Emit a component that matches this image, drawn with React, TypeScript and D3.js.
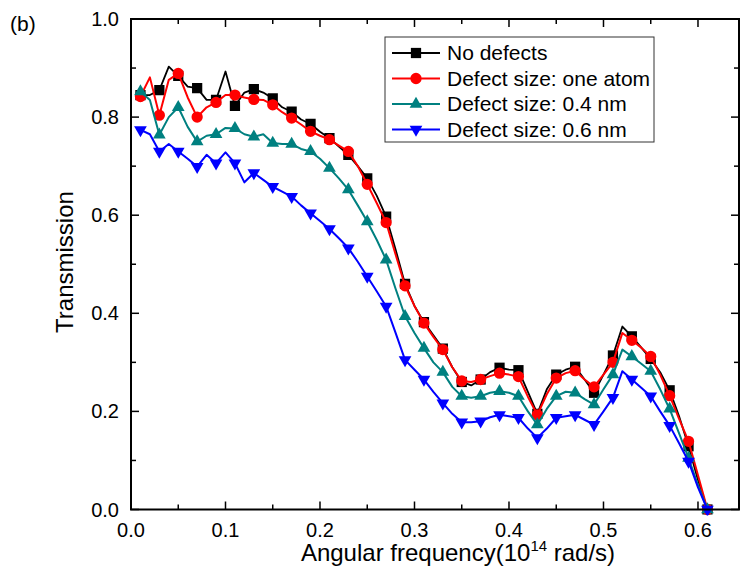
import React from 'react';
import * as d3 from 'd3';

// Angular frequency (10^14 rad/s)
const freq = [
  0.01, 0.02, 0.03, 0.04, 0.05, 0.06, 0.07, 0.08, 0.09, 0.10,
  0.11, 0.12, 0.13, 0.14, 0.15, 0.16, 0.17, 0.18, 0.19, 0.20,
  0.21, 0.22, 0.23, 0.24, 0.25, 0.26, 0.27, 0.28, 0.29, 0.30,
  0.31, 0.32, 0.33, 0.34, 0.35, 0.36, 0.37, 0.38, 0.39, 0.40,
  0.41, 0.42, 0.43, 0.44, 0.45, 0.46, 0.47, 0.48, 0.49, 0.50,
  0.51, 0.52, 0.53, 0.54, 0.55, 0.56, 0.57, 0.58, 0.59, 0.60,
  0.61,
];

const noDefects = [
  0.845, 0.845, 0.855, 0.903, 0.884, 0.862, 0.859, 0.835, 0.835, 0.893,
  0.823, 0.850, 0.857, 0.850, 0.838, 0.820, 0.811, 0.795, 0.786, 0.770,
  0.757, 0.740, 0.723, 0.700, 0.675, 0.640, 0.597, 0.530, 0.460, 0.415,
  0.382, 0.355, 0.328, 0.290, 0.260, 0.253, 0.265, 0.280, 0.289, 0.285,
  0.284, 0.240, 0.195, 0.245, 0.275, 0.285, 0.291, 0.265, 0.238, 0.275,
  0.314, 0.373, 0.353, 0.330, 0.307, 0.280, 0.243, 0.190, 0.129, 0.060,
  0.000,
];

const oneAtom = [
  0.842, 0.881, 0.804, 0.876, 0.889, 0.840, 0.800, 0.820, 0.830, 0.845,
  0.845, 0.840, 0.836, 0.835, 0.825, 0.810, 0.798, 0.785, 0.771, 0.762,
  0.754, 0.742, 0.730, 0.700, 0.663, 0.625, 0.585, 0.520, 0.456, 0.415,
  0.380, 0.352, 0.326, 0.290, 0.262, 0.260, 0.265, 0.272, 0.278, 0.275,
  0.271, 0.230, 0.193, 0.235, 0.268, 0.278, 0.283, 0.265, 0.250, 0.275,
  0.300, 0.360, 0.345, 0.330, 0.312, 0.275, 0.232, 0.185, 0.139, 0.070,
  0.000,
];

const defect04 = [
  0.852, 0.835, 0.764, 0.800, 0.820, 0.780, 0.750, 0.762, 0.765, 0.778,
  0.777, 0.765, 0.760, 0.765, 0.747, 0.745, 0.745, 0.735, 0.730, 0.715,
  0.696, 0.675, 0.652, 0.620, 0.587, 0.550, 0.509, 0.450, 0.394, 0.360,
  0.329, 0.300, 0.280, 0.250, 0.231, 0.228, 0.231, 0.238, 0.241, 0.238,
  0.231, 0.200, 0.173, 0.205, 0.231, 0.240, 0.238, 0.225, 0.214, 0.245,
  0.275, 0.326, 0.312, 0.297, 0.282, 0.245, 0.205, 0.155, 0.105, 0.050,
  0.000,
];

const defect06 = [
  0.774, 0.765, 0.730, 0.745, 0.730, 0.715, 0.699, 0.723, 0.706, 0.728,
  0.706, 0.667, 0.686, 0.672, 0.658, 0.648, 0.638, 0.620, 0.604, 0.588,
  0.572, 0.553, 0.533, 0.505, 0.475, 0.445, 0.414, 0.360, 0.305, 0.285,
  0.265, 0.240, 0.217, 0.195, 0.178, 0.178, 0.180, 0.188, 0.193, 0.190,
  0.187, 0.165, 0.146, 0.165, 0.187, 0.190, 0.193, 0.183, 0.173, 0.200,
  0.228, 0.282, 0.265, 0.248, 0.231, 0.200, 0.171, 0.135, 0.098, 0.045,
  0.000,
];

const seriesNames = ['No defects', 'Defect size: one atom', 'Defect size: 0.4 nm', 'Defect size: 0.6 nm'];
const seriesColors = ['#000000', '#ff0000', '#008080', '#0000ff'];
const xTickValues = [0, 0.1, 0.2, 0.3, 0.4, 0.5, 0.6];
const xMinorValues = [0.05, 0.15, 0.25, 0.35, 0.45, 0.55];
const yTickValues = [0, 0.2, 0.4, 0.6, 0.8, 1.0];
const yMinorValues = [0.1, 0.3, 0.5, 0.7, 0.9];

const FONT = '"Liberation Sans", Arial, Helvetica, sans-serif';

type Shape = 'square' | 'circle' | 'up' | 'down';
const shapes: Shape[] = ['square', 'circle', 'up', 'down'];

function markerPath(shape: Shape): string {
  if (shape === 'square') return d3.symbol().type(d3.symbolSquare).size(105)()!;
  if (shape === 'circle') return d3.symbol().type(d3.symbolCircle).size(100)()!;
  return d3.symbol().type(d3.symbolTriangle).size(70)()!;
}

export default function App() {
  const W = 740;
  const H = 575;
  const x = d3.scaleLinear().domain([0, 0.6434]).range([131, 739]);
  const y = d3.scaleLinear().domain([0, 1]).range([509.5, 19]);
  const left = x.range()[0];
  const right = x.range()[1];
  const top = y.range()[1];
  const bottom = y.range()[0];

  const data = [noDefects, oneAtom, defect04, defect06];
  const line = d3
    .line<number>()
    .x((_, i) => x(freq[i]))
    .y((d) => y(d));

  const fmt = d3.format('.1f');
  const major = 8;
  const minor = 5;

  const legend = { x: 385, y: 37, w: 269, h: 105, row0: 53, rowStep: 25.5 };

  return (
    <svg
      width={W}
      height={H}
      style={{ position: 'absolute', left: 0, top: 0, background: '#fff' }}
      fontFamily={FONT}
    >
      <rect x={0} y={0} width={W} height={H} fill="#fff" />
      <defs>
        <clipPath id="plotClip">
          <rect x={left} y={top - 2} width={right - left} height={bottom - top + 8} />
        </clipPath>
      </defs>

      {/* series */}
      <g clipPath="url(#plotClip)">
        {data.map((vals, si) => (
          <g key={si}>
            <path
              d={line(vals)!}
              fill="none"
              stroke={seriesColors[si]}
              strokeWidth={si === 0 ? 1.8 : 2}
              strokeLinejoin="round"
            />
            {vals.map((v, i) =>
              i % 2 === 0 ? (
                <path
                  key={i}
                  d={markerPath(shapes[si])}
                  transform={`translate(${x(freq[i])},${y(v)})${shapes[si] === 'down' ? ' rotate(180)' : ''}`}
                  fill={seriesColors[si]}
                />
              ) : null
            )}
          </g>
        ))}
      </g>

      {/* frame */}
      <rect x={left} y={top} width={right - left} height={bottom - top} fill="none" stroke="#000" strokeWidth={2} />

      {/* x ticks */}
      {xTickValues.map((t) => (
        <g key={'xt' + t}>
          <line x1={x(t)} x2={x(t)} y1={bottom} y2={bottom - major} stroke="#000" strokeWidth={1.5} />
          <line x1={x(t)} x2={x(t)} y1={top} y2={top + major} stroke="#000" strokeWidth={1.5} />
          <text x={x(t)} y={537} fontSize={20} textAnchor="middle">
            {fmt(t)}
          </text>
        </g>
      ))}
      {xMinorValues.map((t) => (
        <g key={'xm' + t}>
          <line x1={x(t)} x2={x(t)} y1={bottom} y2={bottom - minor} stroke="#000" strokeWidth={1.5} />
          <line x1={x(t)} x2={x(t)} y1={top} y2={top + minor} stroke="#000" strokeWidth={1.5} />
        </g>
      ))}

      {/* y ticks */}
      {yTickValues.map((t) => (
        <g key={'yt' + t}>
          <line x1={left} x2={left + major} y1={y(t)} y2={y(t)} stroke="#000" strokeWidth={1.5} />
          <line x1={right} x2={right - major} y1={y(t)} y2={y(t)} stroke="#000" strokeWidth={1.5} />
          <text x={119} y={y(t) + 7} fontSize={20} textAnchor="end">
            {fmt(t)}
          </text>
        </g>
      ))}
      {yMinorValues.map((t) => (
        <g key={'ym' + t}>
          <line x1={left} x2={left + minor} y1={y(t)} y2={y(t)} stroke="#000" strokeWidth={1.5} />
          <line x1={right} x2={right - minor} y1={y(t)} y2={y(t)} stroke="#000" strokeWidth={1.5} />
        </g>
      ))}

      {/* axis titles */}
      <text x={458} y={561} fontSize={24} textAnchor="middle">
        Angular frequency(10
        <tspan dy={-10} fontSize={15}>14</tspan>
        <tspan dy={10}> rad/s)</tspan>
      </text>
      <text transform="translate(73,262) rotate(-90)" fontSize={24} textAnchor="middle">
        Transmission
      </text>

      <text x={10} y={31} fontSize={21}>
        (b)
      </text>

      {/* legend */}
      <rect x={legend.x} y={legend.y} width={legend.w} height={legend.h} fill="#fff" stroke="#333" strokeWidth={1} />
      {seriesNames.map((name, si) => {
        const cy = legend.row0 + si * legend.rowStep;
        return (
          <g key={name}>
            <line x1={392} x2={440} y1={cy} y2={cy} stroke={seriesColors[si]} strokeWidth={2} />
            <path
              d={markerPath(shapes[si])}
              transform={`translate(416,${cy})${shapes[si] === 'down' ? ' rotate(180)' : ''}`}
              fill={seriesColors[si]}
            />
            <text x={447} y={cy + 7} fontSize={21}>
              {name}
            </text>
          </g>
        );
      })}
    </svg>
  );
}
